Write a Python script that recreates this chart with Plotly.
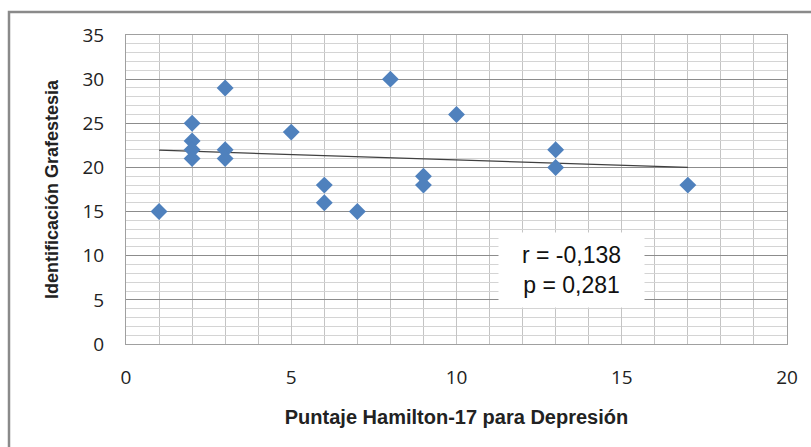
import numpy as np
import plotly.graph_objects as go

# Data
hamilton = [1, 2, 2, 2, 2, 3, 3, 3, 5, 6, 6, 7, 8, 9, 9, 10, 13, 13, 17]
grafestesia = [15, 25, 23, 22, 21, 29, 22, 21, 24, 18, 16, 15, 30, 19, 18, 26, 22, 20, 18]
trend_x = [1, 17]
trend_y = [21.95, 20.0]
stats_text = "r = -0,138<br>p = 0,281"

fig = go.Figure()
fig.add_trace(go.Scatter(
    x=trend_x, y=trend_y, mode="lines",
    line=dict(color="#404040", width=1.2), hoverinfo="skip", showlegend=False))
fig.add_trace(go.Scatter(
    x=hamilton, y=grafestesia, mode="markers",
    marker=dict(symbol="diamond", size=13, color="#4F81BD", line=dict(width=0)),
    showlegend=False))

tick_font = dict(family="Open Sans, Liberation Sans, sans-serif", size=19, color="#222")
fig.update_xaxes(
    range=[0, 20], tickvals=[0, 5, 10, 15, 20],
    showgrid=True, gridcolor="#c4c4c4", gridwidth=1,
    minor=dict(dtick=1, showgrid=True, gridcolor="#c4c4c4", gridwidth=1),
    showline=True, linecolor="#a0a0a0", linewidth=1, mirror=True,
    zeroline=False, ticks="", tickfont=tick_font, ticklabelstandoff=16,
    title=dict(text="<b>Puntaje Hamilton-17 para Depresión</b>",
               font=dict(family="Liberation Sans, sans-serif", size=20, color="#222"),
               standoff=21),
)
fig.update_yaxes(
    range=[0, 35], dtick=5,
    showgrid=True, gridcolor="#8c8c8c", gridwidth=1,
    minor=dict(dtick=1, showgrid=True, gridcolor="#d4d4d4", gridwidth=1),
    showline=True, linecolor="#a0a0a0", linewidth=1, mirror=True,
    zeroline=False, ticks="", tickfont=tick_font, ticklabelstandoff=17,
    title=dict(text="<b>Identificación Grafestesia</b>",
               font=dict(family="Liberation Sans, sans-serif", size=18, color="#222"),
               standoff=19),
)

# outer chart border
fig.add_shape(type="rect", xref="paper", yref="paper",
              x0=(9 - 126) / 661, x1=2, y0=-1, y1=(344 - 12) / 309,
              line=dict(color="#8a8a8a", width=2.5), fillcolor="rgba(0,0,0,0)", layer="below")

fig.add_annotation(
    x=13.48, y=8.38, xref="x", yref="y", text=stats_text, showarrow=False,
    align="center", xanchor="center", yanchor="middle",
    width=145, height=74,
    font=dict(family="Liberation Sans, Arial, sans-serif", size=23, color="#111"),
    bgcolor="white", borderpad=0)

fig.update_layout(
    width=811, height=447,
    margin=dict(l=126, r=24, t=35, b=103),
    paper_bgcolor="white", plot_bgcolor="white",
)

fig.write_html("out.html")
